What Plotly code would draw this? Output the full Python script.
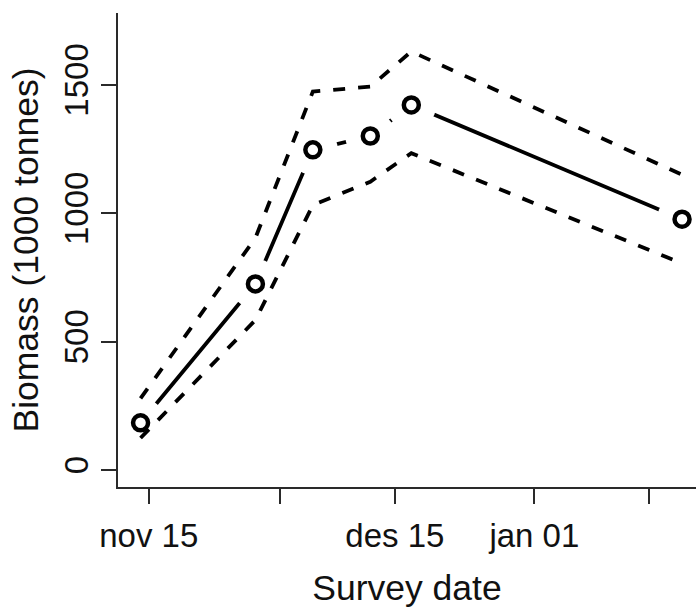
from datetime import datetime, timedelta
import plotly.graph_objects as go

# Survey dates and biomass estimates with confidence bounds (1000 tonnes)
survey_dates = ["2006-11-14", "2006-11-28", "2006-12-05", "2006-12-12", "2006-12-17", "2007-01-19"]
biomass = [184, 725, 1247, 1301, 1422, 977]
upper = [279, 904, 1474, 1493, 1630, 1150]
lower = [125, 584, 1032, 1123, 1234, 805]

tick_dates = ["2006-11-15", "2006-12-01", "2006-12-15", "2007-01-01", "2007-01-15"]
tick_labels = ["nov 15", "", "des 15", "jan 01", ""]

FONT = "Liberation Sans, Arial, sans-serif"
INK = "#111111"

base = datetime(2006, 11, 15)
fmt = "%Y-%m-%d %H:%M:%S"
x_range = [(base - timedelta(days=3.75)).strftime(fmt),
           (base + timedelta(days=66.7)).strftime(fmt)]

fig = go.Figure()

# estimate line, "both" style: a line that breaks around each point
fig.add_trace(go.Scatter(x=survey_dates, y=biomass, mode="lines",
                         line=dict(color="black", width=3.8), hoverinfo="skip"))
fig.add_trace(go.Scatter(x=survey_dates, y=biomass, mode="markers",
                         marker=dict(symbol="circle", size=50, color="white",
                                     line=dict(width=0)), hoverinfo="skip"))

# confidence bounds
for bound in (upper, lower):
    fig.add_trace(go.Scatter(x=survey_dates, y=bound, mode="lines",
                             line=dict(color="black", width=3.8, dash="12px,13px")))

# survey points
fig.add_trace(go.Scatter(x=survey_dates, y=biomass, mode="markers",
                         marker=dict(symbol="circle-open", size=15, color="black",
                                     line=dict(width=4.5, color="black"))))

axis_common = dict(showline=True, linecolor="#2a2a2a", linewidth=2.2,
                   ticks="outside", ticklen=15, tickwidth=2.2, tickcolor="#2a2a2a",
                   showgrid=False, zeroline=False,
                   tickfont=dict(family=FONT, size=33, color=INK))

fig.update_layout(
    width=696, height=610,
    margin=dict(l=118, r=0, t=13, b=123),
    plot_bgcolor="white", paper_bgcolor="white",
    showlegend=False,
    xaxis=dict(type="date", range=x_range, tickvals=tick_dates, ticktext=tick_labels,
               ticklabelstandoff=3,
               title=dict(text="Survey date", font=dict(family=FONT, size=35.5, color=INK),
                          standoff=22),
               **axis_common),
    yaxis=dict(range=[-66, 1780], tickvals=[0, 500, 1000, 1500], tickangle=-90,
               title=dict(text="Biomass (1000 tonnes)",
                          font=dict(family=FONT, size=35.5, color=INK), standoff=8),
               **axis_common),
)

fig.write_html("out.html")
